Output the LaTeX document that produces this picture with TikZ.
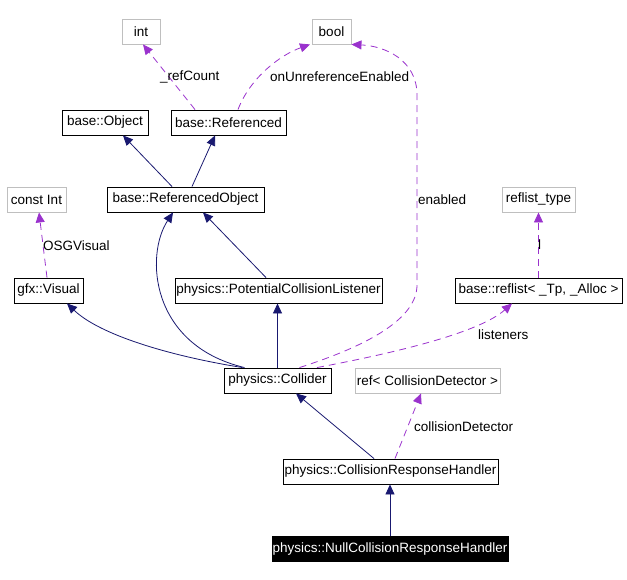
\documentclass[tikz,border=0pt]{standalone}
\usepackage{fontspec}
\setmainfont{Liberation Sans}
\usetikzlibrary{arrows.meta}
\definecolor{navyedge}{HTML}{191970}
\definecolor{orchidedge}{HTML}{9A32CD}
\definecolor{extgray}{HTML}{BFBFBF}

\begin{document}
\begin{tikzpicture}[x=1pt, y=-1pt, >={Triangle[length=10pt,width=9pt]},
  every node/.style={inner sep=0pt, font=\fontsize{13.5}{15}\selectfont},
  cls/.style={draw=black, fill=white, minimum height=25pt, line width=0.9pt},
  ext/.style={draw=extgray, fill=white, minimum height=25pt, line width=0.9pt},
  focus/.style={draw=black, fill=black, text=white, minimum height=25pt},
  inh/.style={->, draw=navyedge, line width=0.8pt},
  usage/.style={->, draw=orchidedge, line width=0.8pt, dash pattern=on 7pt off 5pt},
  lbl/.style={anchor=west, text=black}]
\useasboundingbox (0,0) rectangle (627,579);
% top row
\node[ext, minimum width=38pt] (int) at (141,31.5) {int};
\node[ext, minimum width=39pt] (bool) at (331.5,31.5) {bool};
\node[cls, minimum width=86pt] (obj) at (105,122.5) {base::Object};
\node[cls, minimum width=115pt] (ref) at (228.5,122.5) {base::Referenced};
\node[ext, minimum width=59pt] (cint) at (36.5,199.5) {const Int};
\node[cls, minimum width=157pt] (ro) at (185.5,199.5) {base::ReferencedObject};
\node[ext, minimum width=73pt] (rlt) at (538.5,199.5) {reflist\_type};
\node[cls, minimum width=69pt] (gfx) at (48.5,290.5) {gfx::Visual};
\node[cls, minimum width=207pt] (pcl) at (278.5,290.5) {physics::PotentialCollisionListener};
\node[cls, minimum width=167pt] (rfl) at (538.5,290.5) {base::reflist< \_Tp, \_Alloc >};
\node[cls, minimum width=107pt] (coll) at (277.5,380.5) {physics::Collider};
\node[ext, minimum width=145pt] (rcd) at (427.5,380.5) {ref< CollisionDetector >};
\node[cls, minimum width=215pt] (crh) at (390.5,471.5) {physics::CollisionResponseHandler};
\node[focus, minimum width=236pt] (null) at (390,549) {physics::NullCollisionResponseHandler};
% inheritance
\draw[inh] ([xshift=-13.5pt]ro.north) -- ([xshift=18pt]obj.south);
\draw[inh] ([xshift=6.5pt]ro.north) -- ([xshift=-13.5pt]ref.south);
\draw[inh] ([xshift=-12.5pt]pcl.north) -- ([xshift=17.5pt]ro.south);
\draw[inh] ([xshift=-33pt]coll.north) .. controls (150,345) and (145,255) .. ([xshift=-12.5pt]ro.south);
\draw[inh] ([xshift=-35pt]coll.north) .. controls (170,356) and (100,335) .. ([xshift=18.5pt]gfx.south);
\draw[inh] (coll.north) -- (coll.north |- pcl.south);
\draw[inh] ([xshift=-16.5pt]crh.north) -- ([xshift=18.5pt]coll.south);
\draw[inh] (null.north) -- (null.north |- crh.south);
% members
\draw[usage] ([xshift=-33.5pt]ref.north) -- ([xshift=2pt]int.south);
\node[lbl] (lrc) at (160,77) {\_refCount};
\draw[usage] ([xshift=9.5pt]ref.north) .. controls (250,78) and (280,55) .. ([xshift=-21.5pt]bool.south);
\node[lbl] (lou) at (270,77) {onUnreferenceEnabled};
\draw[usage] ([xshift=22pt]coll.north) .. controls (370,345) and (417,318) .. (417,285)
  -- (417,95) .. controls (417,60) and (385,46) .. (bool.south east);
\node[lbl] (len) at (418,200) {enabled};
\draw[usage] ([xshift=39.5pt]coll.north) .. controls (400,352) and (480,332) .. ([xshift=-26.5pt]rfl.south);
\node[lbl] (lli) at (478,335) {listeners};
\draw[usage] (rfl.north) -- (rlt.south) node[pos=0.5, xshift=1pt, text=black] (ll) {l};
\draw[usage] ([xshift=-1.5pt]gfx.north) -- ([xshift=2.5pt]cint.south);
\node[lbl] (losg) at (43,246) {OSGVisual};
\draw[usage] ([xshift=4.5pt]crh.north) -- ([xshift=-6.5pt]rcd.south);
\node[lbl] (lcd) at (414,427) {collisionDetector};
\end{tikzpicture}
\end{document}
